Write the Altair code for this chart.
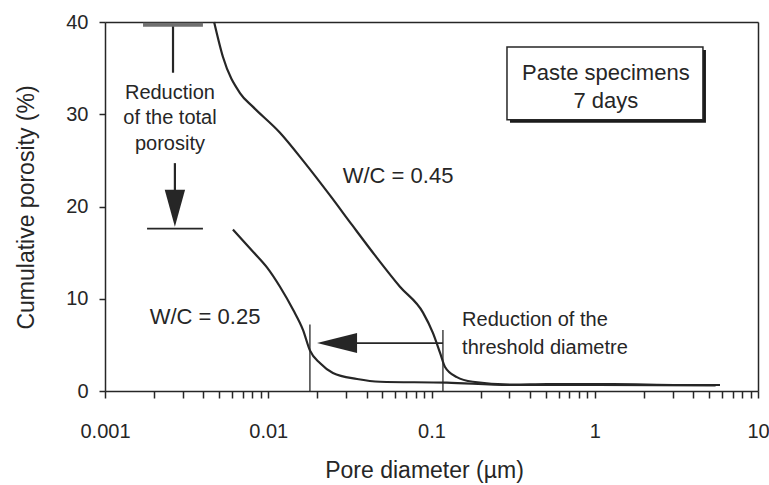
import altair as alt
import pandas as pd

# ---- data ----
WC045_D = [0.00466, 0.00528, 0.00671, 0.00807, 0.0118, 0.0168, 0.0239, 0.0326, 0.0451,
           0.0641, 0.0887, 0.102, 0.113, 0.121, 0.143, 0.179, 0.315, 0.51, 1.29, 3.33, 5.85]
WC045_P = [40.0, 36.2, 32.3, 30.8, 28.0, 24.7, 21.2, 18.0, 14.7,
           11.3, 8.5, 6.3, 4.1, 2.6, 1.5, 1.0, 0.7, 0.75, 0.75, 0.65, 0.65]
WC025_D = [0.00608, 0.00807, 0.00982, 0.0118, 0.0142, 0.01634, 0.0180, 0.0208, 0.0249,
           0.0350, 0.0484, 0.124, 0.30, 1.0, 5.5]
WC025_P = [17.5, 15.1, 13.4, 11.3, 8.8, 6.6, 4.4, 3.0, 1.95,
           1.3, 1.0, 0.9, 0.65, 0.65, 0.6]

X_TICK_LABELS = ["0.001", "0.01", "0.1", "1", "10"]
X_TICKS = [m * 10.0 ** k for k in range(-3, 1) for m in range(1, 10)] + [10.0]
Y_TICKS = [0, 10, 20, 30, 40]
X_DOMAIN = [0.001, 10.0]
Y_DOMAIN = [0.0, 40.0]

# annotation anchors (data units)
TOP_BAR = {"x": 0.00171, "x2": 0.00398, "y": 39.7}
TOP_STEM = {"x": 0.00261, "y": 39.7, "y2": 34.5}
LOW_STEM = {"x": 0.00268, "y": 24.7, "y2": 21.5}
LOW_BAR = {"x": 0.00181, "x2": 0.00398, "y": 17.6}
THRESH = {"x": [0.0180, 0.1175], "y2": [7.2, 6.6]}
H_SHAFT = {"x": 0.034, "x2": 0.1175, "y": 5.2}
DOWN_HEAD = {"x": 0.00268, "y": 19.8}
LEFT_HEAD = {"x": 0.0264, "y": 5.2}
BOX = {"x": 0.290, "x2": 4.60, "y": 29.4, "y2": 37.3}

TOTAL_TXT = {"x": [0.0025] * 3, "y": [32.3, 29.6, 26.8],
             "t": ["Reduction", "of the total", "porosity"]}
THR_TXT = {"x": [0.154] * 2, "y": [7.7, 4.7],
           "t": ["Reduction of the", "threshold diametre"]}
WC_TXT = {"x": [0.0624, 0.0041], "y": [23.3, 8.0], "t": ["W/C = 0.45", "W/C = 0.25"]}
BOX_TXT = {"x": [1.17, 1.17], "y": [34.5, 31.4], "t": ["Paste specimens", "7 days"]}

FONT = "Liberation Sans"
INK = "#262626"

curves = pd.concat([
    pd.DataFrame({"D": WC045_D, "P": WC045_P, "s": "0.45"}),
    pd.DataFrame({"D": WC025_D, "P": WC025_P, "s": "0.25"}),
])

xscale = alt.Scale(type="log", domain=X_DOMAIN, nice=False)
yscale = alt.Scale(domain=Y_DOMAIN, nice=False, zero=False)

label_list = "[" + ",".join("'%s'" % s for s in X_TICK_LABELS) + "]"
xaxis = alt.Axis(values=X_TICKS, format="~g",
                 labelExpr="indexof(%s, datum.label) >= 0 ? datum.label : ''" % label_list,
                 tickSize=7, labelPadding=23, labelFontSize=20, labelFont=FONT,
                 labelColor=INK, tickColor=INK, domainColor=INK, domainWidth=1.5,
                 tickWidth=1.5, grid=False, title="Pore diameter (µm)", titleFont=FONT,
                 titleFontSize=23, titleFontWeight="normal", titleColor=INK,
                 titleX=319, titleY=79, titleBaseline="middle", labelFlush=False,
                 labelOverlap=False, orient="bottom")
yaxis = alt.Axis(values=Y_TICKS, tickSize=6, labelPadding=11, labelFontSize=20,
                 labelFont=FONT, labelColor=INK, tickColor=INK, domainColor=INK,
                 domainWidth=1.5, tickWidth=1.5, grid=False,
                 title="Cumulative porosity (%)", titleFont=FONT, titleFontSize=23,
                 titleFontWeight="normal", titleColor=INK, titleX=-79, titleY=185,
                 titleBaseline="middle", orient="left")
# opposite-side axes whose ticks and labels are invisible: only the domain line shows
xaxis_top = alt.Axis(orient="top", values=X_DOMAIN, labelOpacity=0, tickOpacity=0,
                     tickSize=0, labelFontSize=8, labelPadding=1, title=None,
                     domainColor=INK, domainWidth=1.5, grid=False)
yaxis_right = alt.Axis(orient="right", values=Y_DOMAIN, labelOpacity=0, tickOpacity=0,
                       tickSize=0, labelFontSize=8, labelPadding=1, title=None,
                       domainColor=INK, domainWidth=1.5, grid=False)


def X(f="x", axis=None):
    return alt.X(f + ":Q", scale=xscale, axis=axis)


def Y(f="y", axis=None):
    return alt.Y(f + ":Q", scale=yscale, axis=axis)


lines = alt.Chart(curves).mark_line(color=INK, strokeWidth=2.2, interpolate="monotone").encode(
    x=X("D", xaxis), y=Y("P", yaxis), detail="s:N")

frame = alt.Chart(curves).mark_line(opacity=0).encode(
    x=X("D", xaxis_top), y=Y("P", yaxis_right), detail="s:N")

hbars = alt.Chart(pd.DataFrame([LOW_BAR, H_SHAFT])).mark_rule(color=INK, strokeWidth=1.8).encode(
    x=X(), x2="x2:Q", y=Y())
topbar = alt.Chart(pd.DataFrame([TOP_BAR])).mark_rule(color="#707070", strokeWidth=4).encode(
    x=X(), x2="x2:Q", y=Y())
stems = alt.Chart(pd.DataFrame([TOP_STEM, LOW_STEM])).mark_rule(color=INK, strokeWidth=2.2).encode(
    x=X(), y=Y(), y2="y2:Q")
thr = alt.Chart(pd.DataFrame({"x": THRESH["x"], "y": [0, 0], "y2": THRESH["y2"]})).mark_rule(
    color=INK, strokeWidth=1.3).encode(x=X(), y=Y(), y2="y2:Q")

down = alt.Chart(pd.DataFrame([DOWN_HEAD])).mark_point(
    shape="M-0.55,-1L0.55,-1L0,1Z", size=1369, filled=True, color=INK, opacity=1).encode(
    x=X(), y=Y())
left = alt.Chart(pd.DataFrame([LEFT_HEAD])).mark_point(
    shape="M1,-0.5L1,0.5L-1,0Z", size=1600, filled=True, color=INK, opacity=1).encode(
    x=X(), y=Y())

shadow = alt.Chart(pd.DataFrame([BOX])).mark_rect(
    color="#1a1a1a", xOffset=3, x2Offset=3, yOffset=3, y2Offset=3).encode(
    x=X(), x2="x2:Q", y=Y(), y2="y2:Q")
box = alt.Chart(pd.DataFrame([BOX])).mark_rect(
    fill="white", stroke=INK, strokeWidth=1.5).encode(
    x=X(), x2="x2:Q", y=Y(), y2="y2:Q")


def texts(d, size, align="center"):
    return alt.Chart(pd.DataFrame(d)).mark_text(
        font=FONT, fontSize=size, color=INK, align=align, baseline="middle").encode(
        x=X(), y=Y(), text="t:N")


chart = alt.layer(
    lines, frame, thr, hbars, stems, topbar, down, left, shadow, box,
    texts(TOTAL_TXT, 20), texts(THR_TXT, 20, "left"), texts(WC_TXT, 22), texts(BOX_TXT, 22),
).resolve_axis(x="independent", y="independent").properties(
    width=653, height=369,
    padding={"left": 105, "top": 22, "right": 11, "bottom": 94},
    autosize=alt.AutoSizeParams(type="none"),
    background="white",
)

chart.save("out.html", embed_options={"renderer": "svg", "actions": False})
